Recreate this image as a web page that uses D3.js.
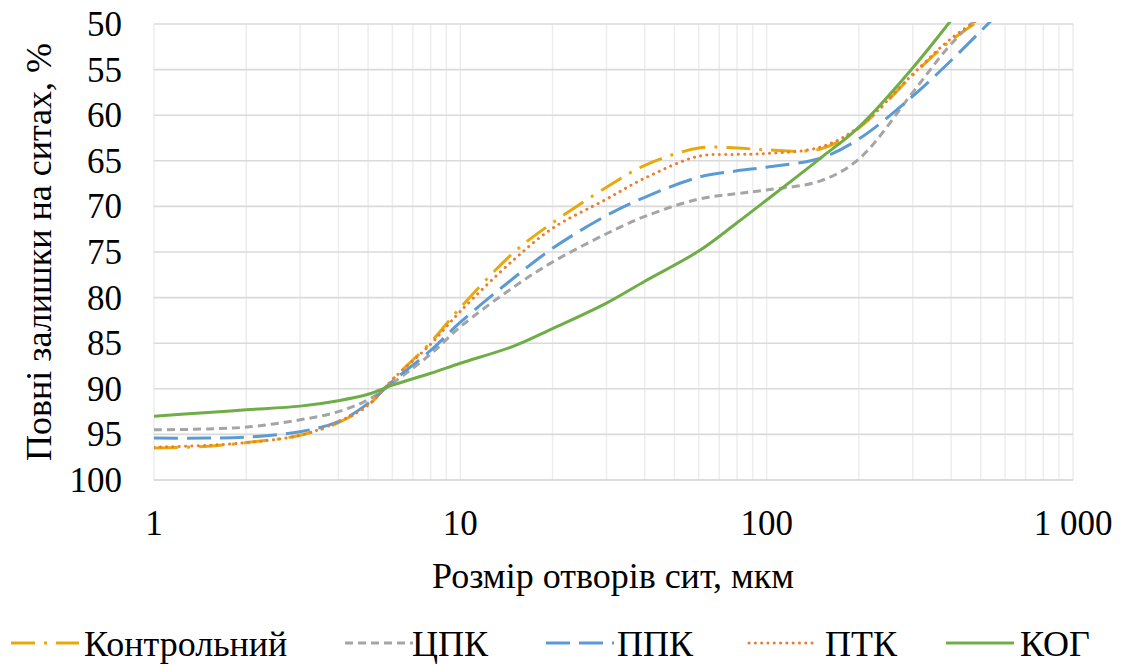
<!DOCTYPE html>
<html><head>
<script src="https://cdn.jsdelivr.net/npm/d3@7"></script>
</head><body style="margin:0">
<svg id="c" width="1121" height="666"></svg>
<script>
// ---- data ----
const sizes   = [1,    1.5,  2,    3,    4,    5,    6,    8,    10,   15,   20,   30,   40,   60,   80,   100,  150,  200,  300,  400,  600];
const kontrol = [96.5, 96.3, 95.9, 95.1, 93.7, 91.8, 89.0, 84.9, 81.1, 75.0, 71.8, 67.9, 65.5, 63.6, 63.6, 63.8, 63.7, 61.4, 55.6, 51.8, 47.8];
const cpk     = [94.5, 94.4, 94.2, 93.4, 92.5, 91.2, 89.4, 86.2, 83.2, 78.8, 76.1, 73.0, 71.1, 69.2, 68.6, 68.2, 67.2, 64.8, 57.5, 52.2, 46.5];
const ppk     = [95.4, 95.4, 95.3, 94.7, 93.6, 91.6, 89.2, 85.8, 82.7, 77.8, 74.6, 71.0, 69.0, 66.8, 66.1, 65.7, 64.7, 62.6, 57.9, 54.0, 48.1];
const ptk     = [96.4, 96.2, 95.9, 95.1, 93.6, 91.8, 89.0, 85.1, 81.5, 75.8, 72.4, 69.2, 66.9, 64.5, 64.3, 64.2, 63.5, 61.3, 55.5, 51.6, 47.6];
const kog     = [93.0, 92.6, 92.3, 91.9, 91.3, 90.6, 89.6, 88.3, 87.2, 85.3, 83.4, 80.6, 78.2, 74.9, 71.8, 69.3, 64.7, 61.3, 54.8, 49.6, 42.0];
const seriesNames = ["Контрольний", "ЦПК", "ППК", "ПТК", "КОГ"];
const yTicks = [50, 55, 60, 65, 70, 75, 80, 85, 90, 95, 100];
const xTicks = [1, 10, 100, 1000];
const xTickLabels = ["1", "10", "100", "1 000"];
const xTitle = "Розмір отворів сит, мкм";
const yTitle = "Повні залишки на ситах, %";

// ---- styles ----
const styles = [
  {color: "#E9A90B", dash: "24,9,3,9", cap: "butt"},
  {color: "#A5A5A5", dash: "8,5", cap: "butt"},
  {color: "#5B9BD5", dash: "24,9", cap: "butt"},
  {color: "#ED7D31", dash: "0.1,6.2", cap: "round"},
  {color: "#70AD47", dash: null, cap: "butt"}
];
const values = [kontrol, cpk, ppk, ptk, kog];

const svg = d3.select("#c");
const L = 154, R = 1073, T = 24, B = 480;
const x = d3.scaleLog().domain([1, 1000]).range([L, R]);
const y = d3.scaleLinear().domain([50, 100]).range([T, B]);

// vertical grid (log minor)
const vLines = [];
for (let d = 1; d <= 100; d *= 10) for (let k = 1; k <= 9; k++) vLines.push(d * k);
vLines.push(1000);
svg.append("g").selectAll("line").data(vLines).join("line")
  .attr("x1", d => x(d)).attr("x2", d => x(d)).attr("y1", T).attr("y2", B)
  .attr("stroke", "#EDEDED").attr("stroke-width", 1.5);
// horizontal grid
svg.append("g").selectAll("line").data(yTicks).join("line")
  .attr("x1", L).attr("x2", R).attr("y1", d => y(d)).attr("y2", d => y(d))
  .attr("stroke", d => d === 100 ? "#D0D0D0" : "#DADADA").attr("stroke-width", 1.6);

function txt(sel, size) {
  return sel.style("font-family", "\"Liberation Serif\"").style("font-size", size + "px").attr("fill", "#000");
}

// axes labels
txt(svg.append("g").selectAll("text").data(yTicks).join("text"), 35)
  .attr("x", 122).attr("y", d => y(d) + 12)
  .attr("text-anchor", "end")
  .text(d => d);
txt(svg.append("g").selectAll("text").data(xTicks).join("text"), 35)
  .attr("x", d => x(d)).attr("y", 535).attr("text-anchor", "middle")
  .text((d, i) => xTickLabels[i]);
txt(svg.append("text"), 36).attr("x", 613).attr("y", 588).attr("text-anchor", "middle")
  .text(xTitle);
txt(svg.append("text"), 36).attr("transform", "translate(51,252) rotate(-90)").attr("text-anchor", "middle")
  .text(yTitle);

// clip
svg.append("clipPath").attr("id", "plot").append("rect")
  .attr("x", L).attr("y", T - 2).attr("width", R - L).attr("height", B - T + 2);

const line = d3.line().x(d => x(d[0])).y(d => y(d[1])).curve(d3.curveCatmullRom.alpha(0.5));
const g = svg.append("g").attr("clip-path", "url(#plot)");
values.forEach((vals, i) => {
  const pts = sizes.map((s, j) => [s, vals[j]]);
  const p = g.append("path").datum(pts).attr("d", line)
    .attr("fill", "none").attr("stroke", styles[i].color).attr("stroke-width", 3)
    .attr("stroke-linecap", styles[i].cap).attr("stroke-linejoin", "round");
  if (styles[i].dash) p.attr("stroke-dasharray", styles[i].dash);
});

// legend
const legX = [11, 345, 546, 749, 946];
const legTextOff = [73, 67, 71, 76, 74];
const legY = 643;
const lg = svg.append("g");
seriesNames.forEach((n, i) => {
  const s = styles[i];
  const ln = lg.append("line").attr("x1", legX[i]).attr("x2", legX[i] + 68)
    .attr("y1", legY).attr("y2", legY).attr("stroke", s.color).attr("stroke-width", 3)
    .attr("stroke-linecap", s.cap);
  if (s.dash) ln.attr("stroke-dasharray", s.dash);
  txt(lg.append("text"), 36).attr("x", legX[i] + legTextOff[i]).attr("y", 656)
    .text(n);
});
</script>
</body></html>
